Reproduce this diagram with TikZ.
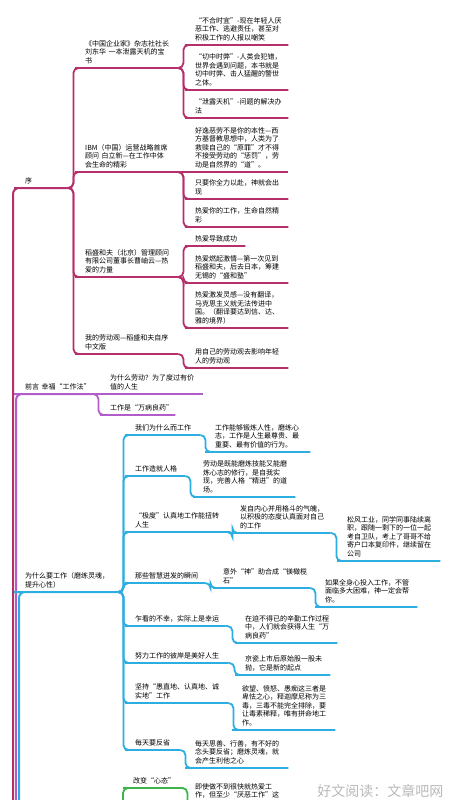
\documentclass[tikz,border=0pt]{standalone}
\usepackage{fontspec}
\setmainfont{Noto Sans CJK SC}
\definecolor{xured}{HTML}{B5306A}
\definecolor{qypurple}{HTML}{B25CC9}
\definecolor{wcyan}{HTML}{2DAEE0}
\definecolor{ggreen}{HTML}{3CB54A}
\tikzset{
  topic/.style={anchor=south west, align=left, inner xsep=5pt, inner ysep=4pt,
    font=\fontsize{7}{8.5}\selectfont, text=black},
  link/.style={line width=1.8pt, rounded corners=5pt},
  trunk/.style={line width=2pt, rounded corners=6pt},
}

\begin{document}
\begin{tikzpicture}[x=1pt, y=-1pt]
    \useasboundingbox (0,0) rectangle (450,800);
    \clip (0,0) rectangle (450,800);

    % Draw nodes
    \node[topic, text width=38pt] (xu) at (20,188) {序};
    \node[topic, text width=63pt] (qy) at (20,394) {前言~幸福“工作法”};
    \node[topic, text width=88pt] (wsm) at (20,592) {为什么要工作（磨练灵魂，\\提升心性）};

    \node[topic, text width=88pt] (xua) at (80,68) {《中国企业家》杂志社社长\\刘东华~一本泄露天机的宝\\书};
    \node[topic, text width=88pt] (xub) at (80,172) {IBM（中国）运营战略首席\\顾问~白立新—在工作中体\\会生命的精彩};
    \node[topic, text width=88pt] (xuc) at (80,277) {稻盛和夫（北京）管理顾问\\有限公司董事长曹岫云—热\\爱的力量};
    \node[topic, text width=88pt] (xud) at (80,354) {我的劳动观—稻盛和夫自序\\中文版};

    \node[topic, text width=88pt] (xua1) at (190,45) {“不合时宜”-现在年轻人厌\\恶工作、逃避责任，甚至对\\积极工作的人报以嘲笑};
    \node[topic, text width=88pt] (xua2) at (190,90) {“切中时弊”-人类会犯错，\\世界会遇到问题，本书就是\\切中时弊、击人猛醒的警世\\之体。};
    \node[topic, text width=88pt] (xua3) at (190,118) {“泄露天机”-问题的解决办\\法};
    \node[topic, text width=88pt] (xub1) at (190,172) {好逸恶劳不是你的本性—西\\方基督教思想中，人类为了\\救赎自己的“原罪”才不得\\不接受劳动的“惩罚”，劳\\动是自然界的“道”。};
    \node[topic, text width=88pt] (xub2) at (190,199) {只要你全力以赴，神就会出\\现};
    \node[topic, text width=88pt] (xub3) at (190,227) {热爱你的工作，生命自然精\\彩};
    \node[topic, text width=45pt] (xuc1) at (190,246) {热爱导致成功};
    \node[topic, text width=88pt] (xuc2) at (190,283) {热爱燃起激情—第一次见到\\稻盛和夫，后去日本，筹建\\无锡的“盛和塾”};
    \node[topic, text width=88pt] (xuc3) at (190,328) {热爱激发灵感—没有翻译，\\马克思主义就无法传进中\\国。（翻译要达到信、达、\\雅的境界）};
    \node[topic, text width=88pt] (xud1) at (190,368) {用自己的劳动观去影响年轻\\人的劳动观};

    \node[topic, text width=88pt] (qya) at (105,394) {为什么劳动？为了度过有价\\值的人生};
    \node[topic, text width=60pt] (qyb) at (105,415) {工作是“万病良药”};

    \node[topic, text width=60pt] (wa) at (130,435) {我们为什么而工作};
    \node[topic, text width=45pt] (wb) at (130,476) {工作造就人格};
    \node[topic, text width=90pt] (wc) at (130,532) {“极度”认真地工作能扭转\\人生};
    \node[topic, text width=65pt] (wd) at (130,583) {那些智慧迸发的瞬间};
    \node[topic, text width=85pt] (we) at (130,626) {乍看的不幸，实际上是幸运};
    \node[topic, text width=88pt] (wf) at (130,663) {努力工作的彼岸是美好人生};
    \node[topic, text width=88pt] (wg) at (130,703) {坚持“愚直地、认真地、诚\\实地”工作};
    \node[topic, text width=40pt] (wh) at (130,750) {每天要反省};

    \node[topic, text width=90pt] (wa1) at (210,452) {工作能够锻炼人性，磨练心\\志，工作是人生最尊贵、最\\重要、最有价值的行为。};
    \node[topic, text width=87pt] (wb1) at (198,497) {劳动是既能磨炼技能又能磨\\炼心志的修行，是自我实\\现，完善人格“精进”的道\\场。};
    \node[topic, text width=85pt] (wc1) at (235,533) {发自内心并用格斗的气魄，\\以积极的态度认真面对自己\\的工作};
    \node[topic, text width=88pt] (wc2) at (342,561) {松风工业，同学同事陆续离\\职，跟随一剩下的一位一起\\考自卫队，考上了哥哥不给\\寄户口本复印件，继续留在\\公司};
    \node[topic, text width=82pt] (wd1) at (218,588) {意外“神”助合成“镁橄榄\\石”};
    \node[topic, text width=87pt] (wd2) at (320,607) {如果全身心投入工作，不管\\面临多大困难，神一定会帮\\你。};
    \node[topic, text width=87pt] (we1) at (240,643) {在迫不得已的辛勤工作过程\\中，人们就会获得人生“万\\病良药”};
    \node[topic, text width=80pt] (wf1) at (240,675) {京瓷上市后原始股一股未\\抛，它是新的起点};
    \node[topic, text width=88pt] (wg1) at (237,730) {欲望、愤怒、愚痴这三者是\\卑怯之心，释迦摩尼称为三\\毒，三毒不能完全排除，要\\让毒素稀释，唯有拼命地工\\作。};
    \node[topic, text width=88pt] (wh1) at (190,768) {每天思善、行善，有不好的\\念头要反省；磨炼灵魂，就\\会产生利他之心};

    \node[topic, text width=45pt] (ga) at (128,788) {改变“心态”};
    \node[topic, text width=90pt] (ga1) at (190,811) {即使做不到很快就热爱工\\作，但至少“厌恶工作”这\\种负面情绪必须从心中排除};

    \node[font=\fontsize{14}{14}\selectfont, text=gray!55, anchor=east] (wm) at (447,791) {好文阅读：文章吧网};

    % Free ends below the page
    \coordinate (rxu) at (13,830);
    \coordinate (rqy) at (16,830);
    \coordinate (rwsm) at (19,830);
    \coordinate (rga) at (123,830);

    % Draw connections
    \draw[trunk, xured] (rxu) |- (xu.south west) -- (xu.south east);
    \draw[trunk, qypurple] (rqy) |- (qy.south west) -- (qy.south east);
    \draw[trunk, wcyan] (rwsm) |- (wsm.south west) -- (wsm.south east);
    \draw[link, ggreen] (rga) |- (ga.south west) -- (ga.south east);

    \draw[link, xured] (xu.south east) -- ++(5,0) |- (xua.south west) -- (xua.south east);
    \draw[link, xured] (xu.south east) -- ++(5,0) |- (xub.south west) -- (xub.south east);
    \draw[link, xured] (xu.south east) -- ++(5,0) |- (xuc.south west) -- (xuc.south east);
    \draw[link, xured] (xu.south east) -- ++(5,0) |- (xud.south west) -- (xud.south east);

    \draw[link, xured] (xua.south east) -- ++(5,0) |- (xua1.south west) -- (xua1.south east);
    \draw[link, xured] (xua.south east) -- ++(5,0) |- (xua2.south west) -- (xua2.south east);
    \draw[link, xured] (xua.south east) -- ++(5,0) |- (xua3.south west) -- (xua3.south east);
    \draw[link, xured] (xub.south east) -- (xub1.south west) -- (xub1.south east);
    \draw[link, xured] (xub.south east) -- ++(5,0) |- (xub2.south west) -- (xub2.south east);
    \draw[link, xured] (xub.south east) -- ++(5,0) |- (xub3.south west) -- (xub3.south east);
    \draw[link, xured] (xuc.south east) -- ++(5,0) |- (xuc1.south west) -- (xuc1.south east);
    \draw[link, xured] (xuc.south east) -- ++(5,0) |- (xuc2.south west) -- (xuc2.south east);
    \draw[link, xured] (xuc.south east) -- ++(5,0) |- (xuc3.south west) -- (xuc3.south east);
    \draw[link, xured] (xud.south east) -- ++(5,0) |- (xud1.south west) -- (xud1.south east);

    \draw[link, qypurple] (qy.south east) -- (qya.south west) -- (qya.south east);
    \draw[link, qypurple] (qy.south east) -- ++(5,0) |- (qyb.south west) -- (qyb.south east);

    \foreach \t in {wa, wb, wc, wd, we, wf, wg, wh}
        \draw[link, wcyan] (wsm.south east) -- ++(5,0) |- (\t.south west) -- (\t.south east);
    \draw[link, wcyan] (wa.south east) -- ++(5,0) |- (wa1.south west) -- (wa1.south east);
    \draw[link, wcyan] (wb.south east) -- ++(5,0) |- (wb1.south west) -- (wb1.south east);
    \draw[link, wcyan] (wc.south east) -- ++(2,0) |- (wc1.south west) -- (wc1.south east);
    \draw[link, wcyan] (wc1.south east) -- ++(6,0) |- (wc2.south west) -- (wc2.south east);
    \draw[link, wcyan] (wd.south east) -- ++(5,0) |- (wd1.south west) -- (wd1.south east);
    \draw[link, wcyan] (wd1.south east) -- ++(5,0) |- (wd2.south west) -- (wd2.south east);
    \draw[link, wcyan] (we.south east) -- ++(7,0) |- (we1.south west) -- (we1.south east);
    \draw[link, wcyan] (wf.south east) -- ++(6,0) |- (wf1.south west) -- (wf1.south east);
    \draw[link, wcyan] (wg.south east) -- ++(5,0) |- (wg1.south west) -- (wg1.south east);
    \draw[link, wcyan] (wh.south east) -- ++(5,0) |- (wh1.south west) -- (wh1.south east);

    \draw[link, ggreen] (ga.south east) -- ++(4,0) |- (ga1.south west) -- (ga1.south east);
\end{tikzpicture}
\end{document}
